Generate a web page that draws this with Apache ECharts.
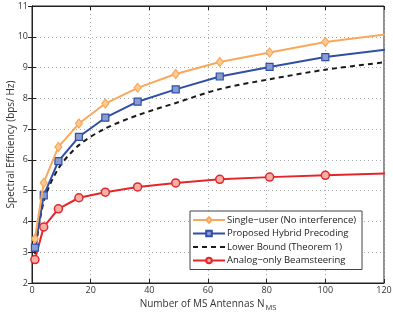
<!DOCTYPE html>
<html><head><meta charset="utf-8">
<script src="https://cdn.jsdelivr.net/npm/echarts@6/dist/echarts.min.js"></script>
<style>html,body{margin:0;padding:0;background:#fff}#c{width:393px;height:314px}</style>
</head><body><div id="c"></div>
<script>
const antennas = [1, 4, 9, 16, 25, 36, 49, 64, 81, 100, 121];
const singleUser = [3.44, 5.26, 6.42, 7.18, 7.83, 8.34, 8.79, 9.18, 9.49, 9.83, 10.08];
const hybrid = [3.15, 4.85, 5.96, 6.75, 7.37, 7.89, 8.29, 8.71, 9.02, 9.34, 9.59];
const lowerBound = [2.95, 4.65, 5.72, 6.48, 7.02, 7.45, 7.85, 8.3, 8.62, 8.93, 9.18];
const analog = [2.76, 3.82, 4.41, 4.77, 4.95, 5.12, 5.25, 5.37, 5.44, 5.50, 5.56];
const xTicks = [0, 20, 40, 60, 80, 100, 120];
const yTicks = [2, 3, 4, 5, 6, 7, 8, 9, 10, 11];

const font = 'Open Sans';
const pair = arr => antennas.map((x, i) => [x, arr[i]]);
const chart = echarts.init(document.getElementById('c'));
const axisCommon = {
  axisLine: {show: true, lineStyle: {color: '#222', width: 1}},
  axisTick: {show: true, inside: true, length: 4, lineStyle: {color: '#222'}},
};
chart.setOption({
  animation: false,
  grid: {left: 32, right: 9, top: 6, bottom: 31, show: true, borderColor: '#222', borderWidth: 1,
    containLabel: false, outerBoundsMode: 'none'},
  xAxis: [{
    type: 'value', min: xTicks[0], max: xTicks[xTicks.length - 1], interval: 20,
    ...axisCommon,
    axisLabel: {fontFamily: font, fontSize: 9, color: '#333', margin: 3},
    splitLine: {show: true, lineStyle: {type: [1, 3], color: '#aaa'}},
    name: 'Number of MS Antennas N{sub|MS}', nameLocation: 'middle', nameGap: 14, nameMoveOverlap: false,
    nameTextStyle: {fontFamily: font, fontSize: 10, color: '#333',
      rich: {sub: {fontFamily: font, fontSize: 7.5, color: '#333', padding: [7, 0, 0, 1]}}}
  }, {
    type: 'value', position: 'top', min: xTicks[0], max: xTicks[xTicks.length - 1], interval: 20,
    ...axisCommon, axisLabel: {show: false}, splitLine: {show: false}
  }],
  yAxis: [{
    type: 'value', min: yTicks[0], max: yTicks[yTicks.length - 1], interval: 1,
    ...axisCommon,
    axisLabel: {fontFamily: font, fontSize: 9, color: '#333', margin: 4},
    splitLine: {show: true, lineStyle: {type: [1, 3], color: '#aaa'}},
    name: 'Spectral Efficiency (bps/ Hz)', nameLocation: 'middle', nameGap: 16, nameMoveOverlap: false,
    nameTextStyle: {fontFamily: font, fontSize: 10, color: '#333'}
  }, {
    type: 'value', position: 'right', min: yTicks[0], max: yTicks[yTicks.length - 1], interval: 1,
    ...axisCommon, axisLabel: {show: false}, splitLine: {show: false}
  }],
  legend: {
    orient: 'vertical', left: 190, top: 211, itemWidth: 32, itemHeight: 7, itemGap: 3.5,
    padding: [4, 6, 4, 2], borderColor: '#444', borderWidth: 1, backgroundColor: '#fff',
    textStyle: {fontFamily: font, fontSize: 9.5, lineHeight: 10, color: '#222', padding: [0, 0, 0, -3]},
    data: ['Single\u2212user (No interference)', 'Proposed Hybrid Precoding',
      {name: 'Lower Bound (Theorem 1)', itemStyle: {opacity: 0}},
      'Analog\u2212only Beamsteering']
  },
  series: [{
    name: 'Single\u2212user (No interference)', type: 'line', data: pair(singleUser), clip: true,
    symbol: 'diamond', symbolSize: [7, 9], showAllSymbol: true,
    lineStyle: {color: '#F9A85B', width: 2}, itemStyle: {color: '#FCCB93', borderColor: '#F9A85B', borderWidth: 1.2}, z: 4
  }, {
    name: 'Proposed Hybrid Precoding', type: 'line', data: pair(hybrid), clip: true,
    symbol: 'rect', symbolSize: 7,
    lineStyle: {color: '#2F4FA6', width: 2}, itemStyle: {color: '#8A9BD0', borderColor: '#2F4FA6', borderWidth: 1.2}, z: 3
  }, {
    name: 'Lower Bound (Theorem 1)', type: 'line', data: pair(lowerBound), clip: true, smooth: 0.3,
    symbol: 'none',
    lineStyle: {color: '#1a1a1a', width: 2, type: [5, 4]}, itemStyle: {color: '#1a1a1a'}, z: 2
  }, {
    name: 'Analog\u2212only Beamsteering', type: 'line', data: pair(analog), clip: true,
    symbol: 'circle', symbolSize: 8,
    lineStyle: {color: '#E3262A', width: 2}, itemStyle: {color: '#F5B0A8', borderColor: '#E3262A', borderWidth: 1.5}, z: 3
  }]
});
</script></body></html>
